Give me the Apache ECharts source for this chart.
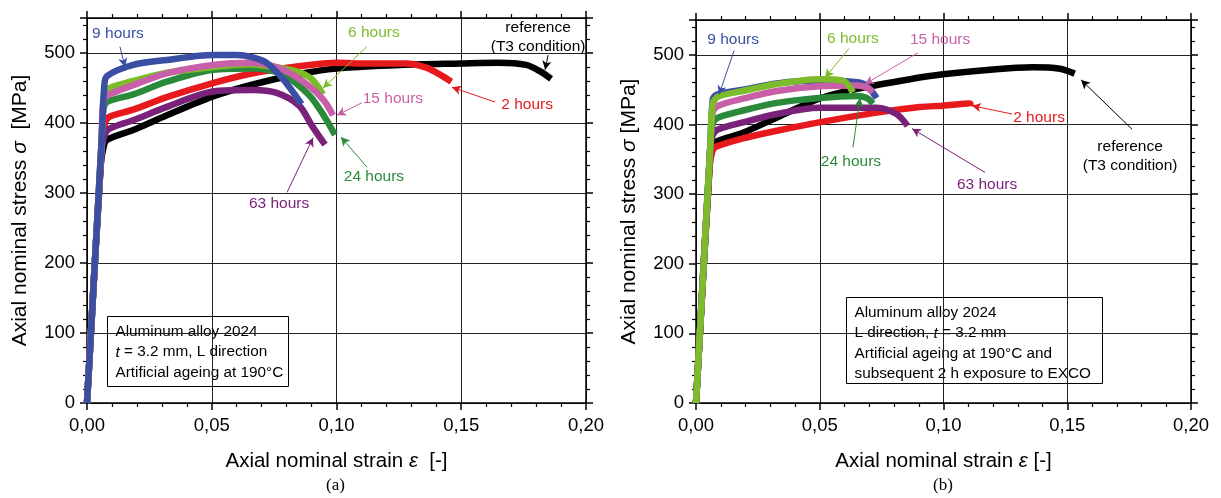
<!DOCTYPE html>
<html>
<head>
<meta charset="UTF-8">
<title>Axial stress-strain curves</title>
<script src="https://cdn.jsdelivr.net/npm/echarts@6/dist/echarts.min.js"></script>
<style>
  body { margin: 0; background: #fff; }
  #main { width: 1221px; height: 498px; }
</style>
</head>
<body>
<div id="main"></div>
<script>
// curves: [strain, stress MPa]
var ref_a = [[0,0],[0.0055,340],[0.0068,368],[0.008,376],[0.0185,390],[0.032,411],[0.0505,438],[0.0665,455],[0.085,470],[0.1,478],[0.1255,483],[0.15,485],[0.165,486],[0.176,483],[0.1815,474],[0.186,463]];
var h2_a  = [[0,0],[0.0058,360],[0.0072,400],[0.009,409],[0.0185,419],[0.032,437],[0.0505,457],[0.0665,471],[0.085,481],[0.1,486],[0.112,485],[0.128,485],[0.136,479],[0.1415,469],[0.146,459]];
var h63_a = [[0,0],[0.0058,360],[0.0072,384],[0.009,392],[0.0185,404],[0.032,423],[0.0505,445],[0.0665,447],[0.076,443],[0.085,425],[0.09,397],[0.0954,369]];
var h24_a = [[0,0],[0.0058,370],[0.0066,420],[0.008,430],[0.0185,441],[0.032,459],[0.0505,476],[0.0665,478],[0.0786,469],[0.089,440],[0.095,410],[0.0994,383]];
var h15_a = [[0,0],[0.0058,370],[0.0065,430],[0.008,439],[0.0185,454],[0.032,471],[0.0505,483],[0.0665,486],[0.0786,476],[0.089,453],[0.095,432],[0.0986,411]];
var h6_a  = [[0,0],[0.0058,370],[0.0067,437],[0.008,448],[0.0185,460],[0.032,472],[0.0505,480],[0.065,484],[0.0786,478],[0.0854,472],[0.0906,461],[0.0946,441]];
var h9_a  = [[0,0],[0.0058,370],[0.0069,452],[0.008,467],[0.0185,483],[0.032,490],[0.0505,497],[0.06,497],[0.066,494],[0.072,486],[0.079,461],[0.086,427]];

var ref_b = [[0,0],[0.0055,340],[0.0065,366],[0.008,375],[0.019,388],[0.0327,410],[0.0497,437],[0.065,451],[0.0865,465],[0.0998,472],[0.12,479],[0.136,482],[0.147,480],[0.153,473]];
var h2_b  = [[0,0],[0.0055,340],[0.0065,360],[0.008,368],[0.019,380],[0.0327,391],[0.0497,403],[0.073,417],[0.0905,425],[0.0998,427],[0.1107,430],[0.111,426]];
var h63_b = [[0,0],[0.0058,365],[0.0068,385],[0.009,393],[0.019,403],[0.0327,415],[0.0497,424],[0.073,424],[0.081,415],[0.0855,398]];
var h24_b = [[0,0],[0.0058,370],[0.0068,402],[0.009,410],[0.019,420],[0.0327,431],[0.0497,438],[0.065,441],[0.069,438],[0.0715,430]];
var h15_b = [[0,0],[0.0058,370],[0.0068,418],[0.009,427],[0.019,437],[0.0327,448],[0.0497,455],[0.065,456],[0.069,453],[0.0715,446]];
var h6_b  = [[0,0],[0.0058,370],[0.0068,430],[0.009,440],[0.019,448],[0.0327,458],[0.0497,465],[0.0594,463],[0.0634,446]];
var h9_b  = [[0,0],[0.0058,370],[0.0068,436],[0.0085,443],[0.019,450],[0.0327,459],[0.0497,463],[0.0606,462],[0.068,458],[0.073,438]];

// labels: text, label centre, arrow start, arrow end (data coords)
var note_ref_a = ['reference\n(T3 condition)', [0.1808,523], [0.1848,497], [0.1836,476]];
var note_2_a   = ['2 hours',  [0.1764,426], [0.1635,430], [0.1463,451]];
var note_63_a  = ['63 hours', [0.077,284],  [0.0802,301], [0.0906,379]];
var note_24_a  = ['24 hours', [0.115,323],  [0.1122,337], [0.1018,380]];
var note_15_a  = ['15 hours', [0.1226,434], [0.1102,429], [0.1002,411]];
var note_6_a   = ['6 hours',  [0.115,529],  [0.1122,509], [0.0946,450]];
var note_9_a   = ['9 hours',  [0.0124,527], [0.0132,509], [0.0152,480]];

var note_ref_b = ['reference\n(T3 condition)', [0.1754,355], [0.1762,393], [0.1556,464]];
var note_2_b   = ['2 hours',  [0.1386,410], [0.1277,415], [0.1115,427]];
var note_63_b  = ['63 hours', [0.1176,314], [0.1168,331], [0.0873,394]];
var note_24_b  = ['24 hours', [0.0626,347], [0.0634,367], [0.0663,438]];
var note_15_b  = ['15 hours', [0.0986,521], [0.0897,503], [0.0683,458]];
var note_6_b   = ['6 hours',  [0.0634,523], [0.0618,509], [0.0521,467]];
var note_9_b   = ['9 hours',  [0.015,521],  [0.0154,506], [0.0093,443]];

var xTicks = [0, 0.05, 0.10, 0.15, 0.20];
var yTicks = [0, 100, 200, 300, 400, 500];

var colors = {
    ref: '#000000', h2: '#e8191c', h63: '#7a2279', h24: '#2a8a3a',
    h15: '#c85fa8', h6: '#7cbb2a', h9: '#3a4fa3'
};

var font = 'Liberation Sans, Arial, sans-serif';

function makeSeries(name, data, color, note, gi) {
    return {
        name: name,
        type: 'line',
        xAxisIndex: gi * 2,
        yAxisIndex: gi * 2,
        data: data,
        showSymbol: false,
        smooth: 0.3,
        lineStyle: { color: color, width: 6.5 },
        itemStyle: { color: color },
        silent: true,
        markLine: {
            silent: true,
            symbol: ['none', 'arrow'],
            symbolSize: [7, 9],
            label: { show: false },
            lineStyle: { color: color, width: 1, type: 'solid' },
            data: [[{ coord: note[2] }, { coord: note[3] }]]
        },
        markPoint: {
            silent: true,
            symbol: 'rect',
            symbolSize: 1,
            itemStyle: { color: 'transparent' },
            label: {
                show: true, position: 'inside', formatter: note[0],
                color: color, fontSize: 15.5, fontFamily: font, lineHeight: 19
            },
            data: [{ coord: note[1] }]
        }
    };
}

function xAx(gi, pos) {
    var main = pos === 'bottom';
    return {
        type: 'value', gridIndex: gi, position: pos,
        min: xTicks[0], max: xTicks[xTicks.length - 1], interval: 0.05,
        name: main ? '{t|Axial nominal strain }{i|ε}{t|' + (gi === 0 ? '  [-]' : ' [-]') + '}' : '',
        nameLocation: 'middle', nameGap: 48,
        nameTextStyle: { rich: {
            t: { fontSize: 20.5, fontFamily: font, color: '#000' },
            i: { fontSize: 20.5, fontFamily: font, fontStyle: 'italic', color: '#000' }
        } },
        axisLine: { show: true, onZero: false, lineStyle: { color: '#000', width: 1.5 } },
        axisTick: { show: true, inside: false, length: 7, lineStyle: { color: '#000', width: 1.5 } },
        minorTick: { show: true, splitNumber: 5, length: 4, lineStyle: { color: '#000', width: 1.2 } },
        axisLabel: {
            show: main, fontSize: 18.5, fontFamily: font, color: '#000', margin: 13,
            formatter: function (v) { return v.toFixed(2).replace('.', ','); }
        },
        splitLine: { show: main, lineStyle: { color: '#222', width: 1 } }
    };
}

function yAx(gi, pos) {
    var main = pos === 'left';
    return {
        type: 'value', gridIndex: gi, position: pos,
        min: yTicks[0], max: 550, interval: 100,
        name: main ? '{t|Axial nominal stress }{i|σ}{t|' + (gi === 0 ? '  [MPa]' : ' [MPa]') + '}' : '',
        nameLocation: 'middle', nameGap: 56, nameRotate: 90,
        nameTextStyle: { rich: {
            t: { fontSize: 21, fontFamily: font, color: '#000' },
            i: { fontSize: 21, fontFamily: font, fontStyle: 'italic', color: '#000' }
        } },
        axisLine: { show: true, onZero: false, lineStyle: { color: '#000', width: 1.5 } },
        axisTick: { show: true, inside: false, length: 7, lineStyle: { color: '#000', width: 1.5 } },
        minorTick: { show: true, splitNumber: 5, length: 4, lineStyle: { color: '#000', width: 1.2 } },
        axisLabel: {
            show: main, fontSize: 18.5, fontFamily: font, color: '#000', margin: 12,
            formatter: function (v) { return v > 500 ? '' : String(v); }
        },
        splitLine: { show: main, lineStyle: { color: '#222', width: 1 } }
    };
}

function infoBox(left, top, w, h, lines) {
    return {
        type: 'group', left: left, top: top,
        children: [
            { type: 'rect', shape: { x: 0, y: 0, width: w, height: h },
              style: { fill: '#fff', stroke: '#000', lineWidth: 1 } },
            { type: 'text', x: 8, y: 5,
              style: {
                  text: lines.join('\n'), fontSize: 15.3, fontFamily: font, fill: '#000', lineHeight: 20.5,
                  rich: {
                      i: { fontSize: 15.3, fontFamily: font, fontStyle: 'italic', fill: '#000', lineHeight: 20.5 }
                  }
              } }
        ]
    };
}

var chart = echarts.init(document.getElementById('main'));
var option = {
    animation: false,
    backgroundColor: '#fff',
    grid: [
        { left: 87, top: 18, width: 499, height: 385 },
        { left: 696, top: 20, width: 495, height: 383 }
    ],
    xAxis: [xAx(0, 'bottom'), xAx(0, 'top'), xAx(1, 'bottom'), xAx(1, 'top')],
    yAxis: [yAx(0, 'left'), yAx(0, 'right'), yAx(1, 'left'), yAx(1, 'right')],
    series: [
        makeSeries('reference (a)', ref_a, colors.ref, note_ref_a, 0),
        makeSeries('2 hours (a)', h2_a, colors.h2, note_2_a, 0),
        makeSeries('63 hours (a)', h63_a, colors.h63, note_63_a, 0),
        makeSeries('24 hours (a)', h24_a, colors.h24, note_24_a, 0),
        makeSeries('6 hours (a)', h6_a, colors.h6, note_6_a, 0),
        makeSeries('15 hours (a)', h15_a, colors.h15, note_15_a, 0),
        makeSeries('9 hours (a)', h9_a, colors.h9, note_9_a, 0),

        makeSeries('reference (b)', ref_b, colors.ref, note_ref_b, 1),
        makeSeries('2 hours (b)', h2_b, colors.h2, note_2_b, 1),
        makeSeries('63 hours (b)', h63_b, colors.h63, note_63_b, 1),
        makeSeries('24 hours (b)', h24_b, colors.h24, note_24_b, 1),
        makeSeries('9 hours (b)', h9_b, colors.h9, note_9_b, 1),
        makeSeries('15 hours (b)', h15_b, colors.h15, note_15_b, 1),
        makeSeries('6 hours (b)', h6_b, colors.h6, note_6_b, 1)
    ],
    graphic: [
        infoBox(107, 316, 181, 70, [
            'Aluminum alloy 2024',
            '{i|t} = 3.2 mm, L direction',
            'Artificial ageing at 190°C'
        ]),
        infoBox(846, 297, 256, 86, [
            'Aluminum alloy 2024',
            'L direction, {i|t} = 3.2 mm',
            'Artificial ageing at 190°C and',
            'subsequent 2 h exposure to EXCO'
        ]),
        { type: 'text', left: 326, top: 477,
          style: { text: '(a)', fontSize: 17, fontFamily: 'Liberation Serif, Times New Roman, serif', fill: '#000' } },
        { type: 'text', left: 933, top: 477,
          style: { text: '(b)', fontSize: 17, fontFamily: 'Liberation Serif, Times New Roman, serif', fill: '#000' } }
    ]
};
chart.setOption(option);
</script>
</body>
</html>
